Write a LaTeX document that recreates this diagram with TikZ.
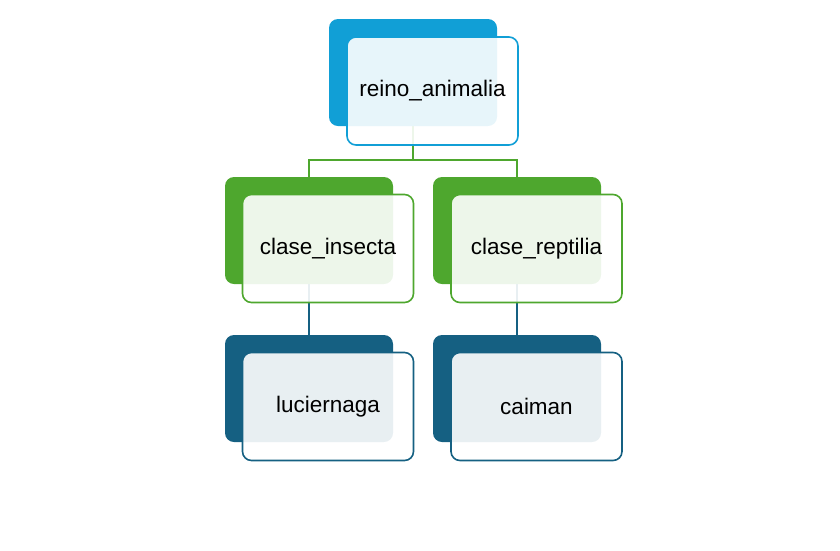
\documentclass[tikz,border=0pt]{standalone}
\usepackage{fontspec}
\setmainfont{Liberation Sans}
\usetikzlibrary{backgrounds}
\definecolor{topblue}{HTML}{119FD6}
\definecolor{leafgreen}{HTML}{4EA72E}
\definecolor{deepblue}{HTML}{156082}
\begin{document}
\begin{tikzpicture}[x=1pt,y=-1pt,
		backbox/.style={rectangle,rounded corners=9pt,minimum width=168pt,minimum height=107pt,inner sep=0pt,fill=#1},
		frontbox/.style={rectangle,rounded corners=9pt,minimum width=171pt,minimum height=108pt,inner sep=0pt,draw=#1,line width=1.6pt,fill=white,fill opacity=0.9,text opacity=1,font=\fontsize{22.5}{26}\selectfont},
		conn/.style={draw=#1,line width=1.6pt}]
	\useasboundingbox (0,0) rectangle (840,550);
	% back boxes
	\node[backbox=topblue] (R) at (413,72.5) {};
	\node[backbox=leafgreen] (I) at (309,230.5) {};
	\node[backbox=leafgreen] (P) at (517,230.5) {};
	\node[backbox=deepblue] (L) at (309,388.5) {};
	\node[backbox=deepblue] (K) at (517,388.5) {};
	% connectors
	\begin{scope}[on background layer]
		\coordinate (B) at (413,160);
		\draw[conn=leafgreen] (R) -- (B) -| (I);
		\draw[conn=leafgreen] (B) -| (P);
		\draw[conn=deepblue] (I) -- (L);
		\draw[conn=deepblue] (P) -- (K);
	\end{scope}
	% front boxes
	\node[frontbox=topblue] (R1) at (432.5,91) {reino\_animalia};
	\node[frontbox=leafgreen] (I1) at (328,248.5) {clase\_insecta};
	\node[frontbox=leafgreen] (P1) at (536.5,248.5) {clase\_reptilia};
	\node[frontbox=deepblue] (L1) at (328,406.5) {luciernaga};
	\node[frontbox=deepblue] (K1) at (536.5,406.5) {caiman};
\end{tikzpicture}
\end{document}
